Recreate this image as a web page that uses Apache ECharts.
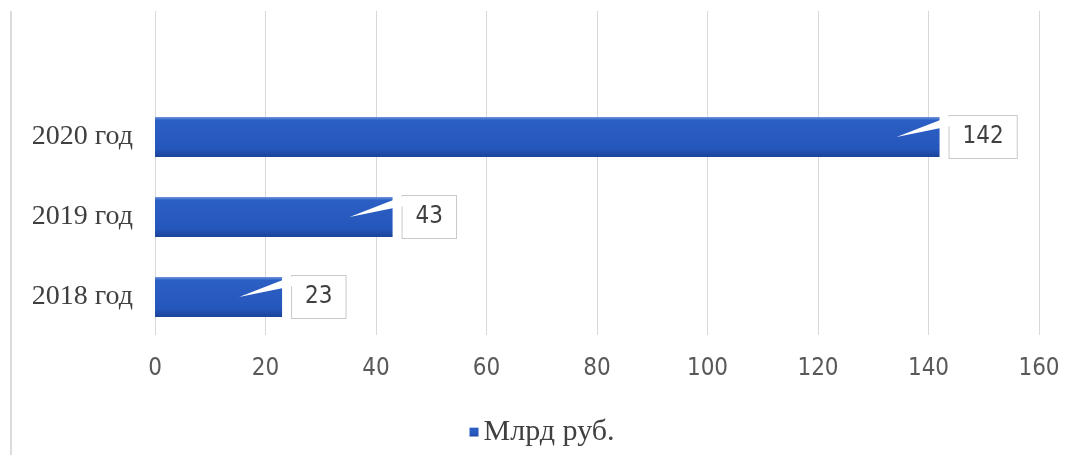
<!DOCTYPE html>
<html>
<head>
<meta charset="utf-8">
<script src="https://cdn.jsdelivr.net/npm/echarts@6/dist/echarts.min.js"></script>
<style>
  html, body { margin: 0; padding: 0; background: #fff; }
  #main { width: 1084px; height: 455px; }
</style>
</head>
<body>
<div id="main"></div>
<script>
// данные
var years = ['2018 год', '2019 год', '2020 год'];
var values = [23, 43, 142];
var seriesName = 'Млрд руб.';
var xTicks = [0, 20, 40, 60, 80, 100, 120, 140, 160];

var chart = echarts.init(document.getElementById('main'));

var pairs = values.map(function (v, i) { return [v, i]; });
var numFont = "'DejaVu Sans Condensed', 'Liberation Sans', sans-serif";

var option = {
    backgroundColor: '#fff',
    animation: false,
    graphic: [{
        type: 'line',
        shape: { x1: 11, y1: 11, x2: 11, y2: 455 },
        style: { stroke: '#dcdcdc', lineWidth: 2 }
    }],
    legend: {
        data: [seriesName],
        bottom: 3,
        left: 'center',
        icon: 'rect',
        itemWidth: 9,
        itemHeight: 9,
        itemGap: 5,
        textStyle: {
            fontFamily: 'Liberation Serif',
            fontSize: 30,
            color: '#404040'
        }
    },
    grid: [
        // сетка для вертикальных линий
        { left: 155, right: 45, top: 11, bottom: 120 },
        // основная область с полосами
        { left: 155, right: 45, top: 97, bottom: 118 }
    ],
    xAxis: [{
        gridIndex: 0,
        type: 'value',
        min: xTicks[0],
        max: xTicks[xTicks.length - 1],
        interval: 20,
        axisLine: { show: false },
        axisTick: { show: false },
        axisLabel: { show: false },
        splitLine: { lineStyle: { color: '#d9d9d9', width: 1 } }
    }, {
        gridIndex: 1,
        type: 'value',
        min: xTicks[0],
        max: xTicks[xTicks.length - 1],
        interval: 20,
        axisLine: { show: false },
        axisTick: { show: false },
        splitLine: { show: false },
        axisLabel: {
            margin: 20,
            fontFamily: numFont,
            fontSize: 24,
            color: '#595959'
        }
    }],
    yAxis: [{
        gridIndex: 0,
        type: 'category',
        data: years,
        show: false
    }, {
        gridIndex: 1,
        type: 'category',
        data: years,
        axisLine: { show: false },
        axisTick: { show: false },
        axisLabel: {
            margin: 22,
            fontFamily: 'Liberation Serif',
            fontSize: 28,
            color: '#404040'
        }
    }],
    series: [{
        name: seriesName,
        type: 'bar',
        xAxisIndex: 1,
        yAxisIndex: 1,
        data: values,
        barWidth: 40,
        itemStyle: {
            color: new echarts.graphic.LinearGradient(0, 0, 0, 1, [
                { offset: 0, color: '#6f95dc' },
                { offset: 0.08, color: '#2c5fc4' },
                { offset: 0.8, color: '#2556bb' },
                { offset: 1, color: '#1b4399' }
            ])
        },
        label: {
            show: true,
            position: 'right',
            distance: 10,
            fontFamily: numFont,
            fontSize: 24,
            lineHeight: 25,
            color: '#404040',
            backgroundColor: '#fff',
            borderColor: '#c9c9c9',
            borderWidth: 1,
            padding: [9, 13, 8, 13]
        },
        z: 2
    }, {
        // белые выноски от подписи к полосе
        name: 'callout',
        type: 'custom',
        xAxisIndex: 1,
        yAxisIndex: 1,
        data: pairs,
        z: 5,
        silent: true,
        renderItem: function (params, api) {
            var end = api.coord([api.value(0), api.value(1)]);
            return {
                type: 'polygon',
                shape: {
                    points: [
                        [end[0] - 43, end[1]],
                        [end[0] + 11, end[1] - 21],
                        [end[0] + 11, end[1] - 11]
                    ]
                },
                style: { fill: '#ffffff' }
            };
        }
    }]
};

chart.setOption(option);
</script>
</body>
</html>
